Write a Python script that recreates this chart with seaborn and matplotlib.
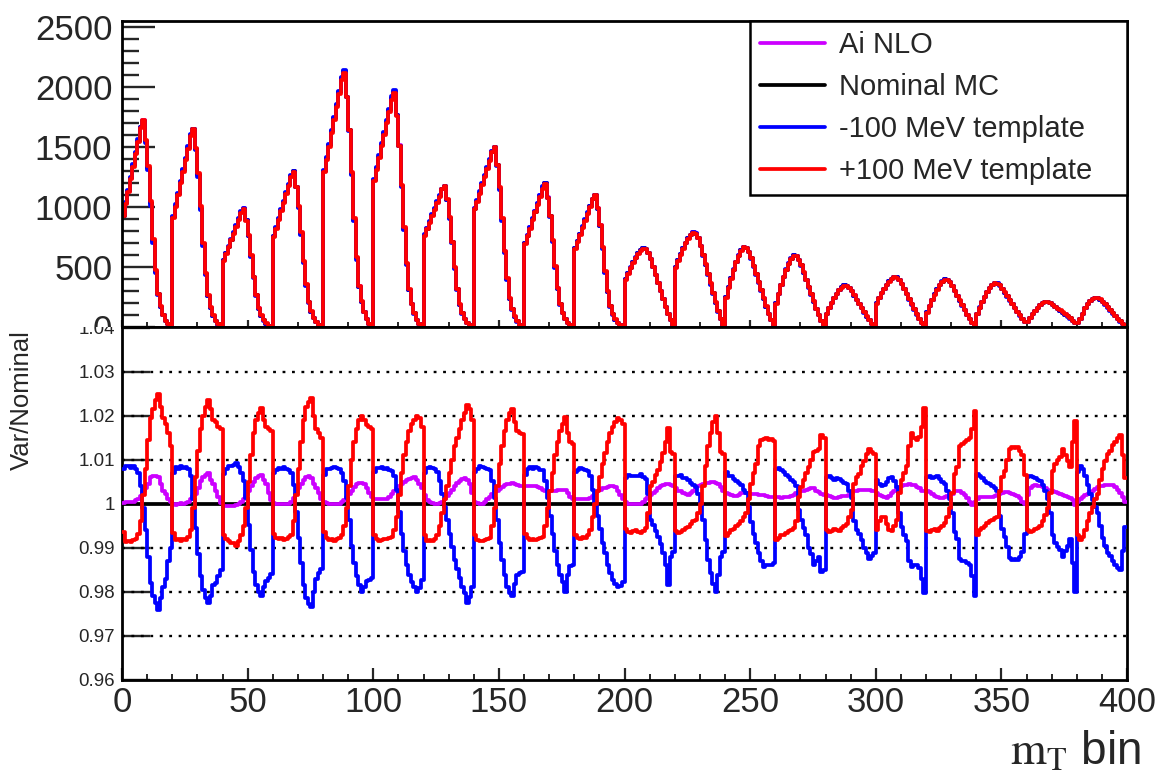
import numpy as np
import matplotlib
matplotlib.use("Agg")
import matplotlib.pyplot as plt
import seaborn as sns
from matplotlib.transforms import Bbox, TransformedBbox
from matplotlib.ticker import MultipleLocator, FixedLocator

# ---------------- data ----------------
# nominal MC counts, 400 bins (20 peaks x 20 bins)
nominal_counts = [
    930, 1033, 1135, 1246, 1349, 1451, 1554, 1665, 1720, 1548, 1324, 1032, 722, 464, 275, 172, 103, 57, 26, 9,
    920, 1015, 1110, 1212, 1307, 1402, 1497, 1599, 1650, 1485, 1270, 990, 693, 446, 264, 165, 99, 54, 25, 8,
    560, 616, 672, 732, 788, 844, 900, 960, 990, 891, 762, 594, 416, 267, 158, 99, 59, 33, 15, 5,
    760, 830, 900, 976, 1046, 1116, 1187, 1262, 1300, 1170, 1001, 780, 546, 351, 208, 130, 78, 43, 20, 7,
    1300, 1408, 1516, 1632, 1740, 1848, 1956, 2072, 2130, 1917, 1640, 1278, 895, 575, 341, 213, 128, 70, 32, 11,
    1230, 1325, 1420, 1522, 1617, 1712, 1807, 1909, 1960, 1764, 1509, 1176, 823, 529, 314, 196, 118, 65, 29, 10,
    770, 823, 877, 934, 987, 1041, 1094, 1151, 1180, 1062, 909, 708, 496, 319, 189, 118, 71, 39, 18, 6,
    990, 1056, 1123, 1194, 1260, 1327, 1393, 1464, 1500, 1350, 1155, 900, 630, 405, 240, 150, 90, 50, 23, 8,
    700, 765, 830, 900, 965, 1030, 1095, 1165, 1200, 1080, 924, 720, 504, 324, 192, 120, 72, 40, 18, 6,
    660, 717, 774, 836, 893, 950, 1008, 1069, 1100, 990, 847, 660, 462, 297, 176, 110, 66, 36, 17, 6,
    400, 452, 499, 543, 582, 616, 642, 660, 653, 620, 568, 502, 436, 370, 304, 238, 172, 112, 59, 20,
    500, 558, 610, 660, 703, 741, 770, 790, 782, 743, 679, 600, 521, 442, 363, 284, 205, 134, 71, 24,
    250, 334, 410, 481, 544, 599, 641, 670, 663, 630, 576, 509, 442, 375, 308, 241, 174, 114, 60, 20,
    200, 280, 352, 420, 480, 532, 572, 600, 594, 564, 516, 456, 396, 336, 276, 216, 156, 102, 54, 18,
    115, 162, 204, 244, 280, 310, 334, 350, 347, 329, 301, 266, 231, 196, 161, 126, 91, 60, 32, 11,
    200, 244, 284, 321, 354, 383, 405, 420, 416, 395, 361, 319, 277, 235, 193, 151, 109, 71, 38, 13,
    125, 180, 230, 276, 318, 353, 381, 400, 396, 376, 344, 304, 264, 224, 184, 144, 104, 68, 36, 12,
    115, 166, 212, 255, 294, 327, 352, 370, 366, 350, 322, 290, 258, 226, 194, 162, 130, 100, 72, 48,
    44, 78, 109, 138, 164, 186, 203, 215, 212, 202, 188, 172, 156, 140, 124, 108, 92, 75, 55, 38,
    35, 70, 115, 160, 195, 220, 238, 245, 243, 232, 214, 192, 168, 143, 118, 94, 72, 50, 32, 18,
]

# ratio to nominal, stored as deviation from 1 in units of 1e-4
plus100_dev_e4 = [
    -63, -86, -84, -86, -83, -80, -68, -40, 20, 80, 145, 195, 215, 235, 250, 220, 195, 180, 160, 130,
    -66, -82, -80, -84, -80, -82, -76, -60, -10, 60, 120, 170, 200, 220, 236, 215, 190, 186, 175, 170,
    -70, -80, -85, -88, -90, -95, -85, -70, -50, -10, 50, 110, 160, 190, 205, 218, 190, 175, 170, 165,
    -68, -78, -80, -78, -82, -80, -76, -70, -40, 20, 80, 140, 190, 220, 232, 240, 200, 170, 160, 150,
    -65, -78, -82, -80, -84, -80, -78, -72, -50, -10, 40, 100, 140, 170, 190, 200, 190, 178, 175, 170,
    -70, -80, -84, -82, -80, -80, -78, -75, -60, -30, 20, 70, 110, 140, 165, 180, 190, 200, 195, 175,
    -72, -84, -82, -84, -80, -70, -50, -20, 10, 40, 70, 100, 130, 150, 170, 190, 205, 225, 215, 190,
    -70, -82, -84, -85, -82, -80, -78, -50, -10, 40, 90, 130, 165, 190, 205, 214, 185, 165, 160, 158,
    -68, -78, -82, -80, -82, -80, -78, -75, -50, -10, 30, 70, 110, 140, 165, 180, 197, 160, 140, 135,
    -70, -78, -80, -76, -78, -72, -60, -30, 0, 30, 60, 90, 115, 140, 160, 175, 185, 195, 190, 180,
    -58, -64, -66, -62, -60, -64, -66, -62, -55, -20, 40, 50, 65, 77, 95, 116, 140, 172, 118, 112,
    -62, -66, -64, -60, -56, -52, -46, -40, -36, -20, 0, 40, 85, 130, 161, 185, 200, 160, 118, 112,
    -74, -66, -60, -58, -50, -45, -40, -30, -22, 10, 45, 70, 90, 130, 145, 148, 150, 145, 148, 142,
    -82, -78, -70, -72, -66, -62, -60, -55, -40, 15, 38, 55, 70, 83, 100, 117, 120, 125, 155, 150,
    -60, -64, -62, -58, -60, -62, -55, -50, -45, -30, -14, 45, 60, 68, 85, 98, 112, 125, 118, 114,
    -60, -40, -30, -30, -45, -60, -62, -50, -36, 24, 55, 70, 85, 130, 160, 150, 145, 152, 175, 218,
    -62, -65, -60, -58, -62, -56, -50, -44, -30, -10, 25, 68, 83, 130, 135, 140, 145, 150, 170, 210,
    -70, -60, -55, -50, -44, -40, -36, -32, -30, 30, 60, 75, 100, 125, 128, 126, 128, 120, 110, 65,
    -60, -65, -62, -58, -55, -50, -40, -25, -10, 25, 75, 90, 100, 107, 125, 110, 98, 83, 140, 187,
    -70, -82, -75, -60, -40, -22, -7, 10, 23, 53, 80, 98, 114, 120, 133, 140, 150, 155, 110, 58,
]

minus100_dev_e4 = [
    80, 86, 86, 82, 86, 80, 70, 40, -10, -60, -120, -180, -210, -225, -240, -215, -190, -170, -130, -100,
    70, 84, 80, 86, 82, 84, 78, 62, 10, -55, -115, -165, -195, -215, -225, -210, -185, -180, -165, -150,
    68, 80, 86, 85, 88, 92, 84, 70, 52, 12, -48, -105, -155, -185, -200, -210, -190, -175, -168, -160,
    70, 76, 82, 80, 84, 78, 76, 70, 42, -18, -78, -135, -185, -215, -228, -235, -200, -170, -158, -148,
    66, 80, 80, 82, 84, 82, 78, 70, 52, 12, -38, -95, -135, -165, -185, -200, -188, -176, -172, -168,
    72, 82, 82, 84, 80, 82, 76, 74, 62, 32, -18, -68, -108, -138, -162, -178, -188, -200, -192, -172,
    70, 82, 84, 82, 80, 72, 52, 22, -8, -38, -68, -98, -128, -148, -168, -188, -202, -225, -212, -188,
    72, 80, 86, 84, 82, 80, 76, 52, 12, -38, -88, -128, -162, -188, -202, -210, -182, -162, -158, -156,
    66, 80, 84, 78, 84, 82, 76, 76, 52, 12, -28, -68, -108, -138, -162, -178, -200, -162, -142, -138,
    72, 76, 82, 78, 76, 74, 62, 32, 2, -28, -58, -88, -112, -138, -158, -172, -182, -190, -186, -178,
    58, 66, 64, 64, 62, 62, 68, 60, 56, 22, -38, -48, -62, -76, -92, -112, -138, -185, -120, -110,
    62, 64, 66, 58, 58, 54, 48, 42, 38, 22, 2, -38, -82, -128, -158, -182, -200, -162, -120, -110,
    72, 64, 62, 56, 52, 46, 42, 32, 24, -8, -42, -68, -88, -112, -130, -143, -140, -138, -140, -135,
    80, 82, 76, 72, 66, 60, 55, 50, 40, -15, -38, -55, -72, -100, -115, -140, -130, -120, -155, -150,
    60, 62, 58, 55, 58, 56, 52, 48, 45, 30, 12, -40, -60, -68, -82, -100, -112, -125, -118, -112,
    55, 45, 40, 42, 50, 58, 60, 52, 38, -20, -52, -70, -85, -130, -143, -140, -138, -145, -170, -203,
    60, 62, 58, 60, 62, 56, 50, 44, 30, 10, -22, -65, -80, -125, -130, -130, -135, -140, -165, -210,
    68, 62, 58, 52, 48, 44, 40, 35, 30, -28, -58, -75, -98, -122, -128, -125, -128, -120, -110, -68,
    60, 62, 60, 58, 55, 52, 42, 28, 10, -22, -72, -88, -98, -105, -120, -108, -96, -80, -135, -200,
    72, 85, 80, 62, 42, 22, 8, -8, -22, -50, -78, -95, -112, -118, -130, -140, -145, -150, -108, -52,
]

ai_nlo_dev_e4 = [
    2, 3, 5, 4, 5, 8, 10, 18, 28, 36, 45, 60, 62, 64, 60, 45, 30, 22, 10, 3,
    0, -2, 0, 2, 0, 2, 5, 10, 18, 23, 35, 52, 60, 66, 70, 55, 45, 30, 15, 2,
    -5, -5, -6, -4, -5, -3, 0, 5, 10, 20, 30, 40, 50, 58, 62, 65, 55, 45, 25, 8,
    2, 0, 0, 0, 0, 0, 0, 5, 12, 22, 35, 45, 55, 60, 64, 58, 45, 35, 25, 10,
    5, 2, 0, 0, 0, 0, 0, 3, 8, 15, 22, 30, 38, 45, 46, 48, 45, 35, 25, 15,
    10, 10, 10, 10, 10, 10, 15, 22, 30, 35, 40, 45, 50, 55, 56, 58, 60, 55, 45, 35,
    20, 8, 4, 2, 0, 0, 2, 5, 10, 18, 25, 32, 40, 46, 52, 56, 59, 55, 45, 25,
    5, 2, 0, 0, 5, 10, 15, 22, 28, 30, 34, 38, 42, 45, 45, 46, 44, 42, 40, 40,
    40, 40, 40, 40, 40, 38, 35, 32, 30, 30, 30, 30, 30, 32, 32, 32, 32, 25, 15, 10,
    10, 10, 10, 10, 10, 10, 12, 18, 24, 28, 32, 35, 36, 38, 40, 40, 38, 30, 20, 10,
    5, 0, 0, 0, 0, 0, 0, 5, 10, 15, 20, 25, 30, 35, 40, 42, 45, 45, 42, 40,
    35, 30, 28, 25, 22, 20, 25, 30, 35, 40, 42, 45, 47, 48, 50, 50, 48, 45, 38, 30,
    25, 22, 20, 18, 18, 20, 25, 25, 24, 22, 22, 22, 21, 20, 20, 20, 18, 16, 15, 15,
    16, 15, 14, 15, 16, 15, 17, 20, 24, 26, 28, 30, 32, 34, 35, 35, 30, 26, 22, 20,
    20, 18, 15, 13, 13, 16, 18, 18, 18, 20, 24, 28, 30, 31, 31, 32, 31, 31, 30, 30,
    25, 20, 18, 15, 13, 18, 25, 30, 35, 38, 40, 43, 43, 44, 43, 42, 38, 35, 30, 28,
    28, 26, 22, 18, 15, 12, 14, 16, 18, 20, 22, 28, 30, 28, 24, 20, 14, 5, -2, 5,
    10, 15, 15, 15, 15, 15, 16, 18, 20, 22, 24, 26, 26, 24, 22, 20, 18, 12, 5, 0,
    20, 35, 40, 42, 40, 40, 38, 35, 32, 30, 28, 26, 24, 22, 20, 18, 15, 13, 8, -2,
    5, 10, 15, 20, 22, 26, 30, 34, 38, 40, 41, 42, 43, 43, 42, 38, 32, 25, 15, 5,
]

series_labels = ["Ai NLO", "Nominal MC", "-100 MeV template", "+100 MeV template"]
series_colors = ["#cc00ff", "#000000", "#0000ff", "#ff0000"]
x_ticks = [0, 50, 100, 150, 200, 250, 300, 350, 400]
top_yticks = [0, 500, 1000, 1500, 2000, 2500]
bot_yticks = [0.96, 0.97, 0.98, 0.99, 1.0, 1.01, 1.02, 1.03, 1.04]
bot_ytick_labels = ["0.96", "0.97", "0.98", "0.99", "1", "1.01", "1.02", "1.03", "1.04"]
grid_levels = [0.97, 0.98, 0.99, 1.01, 1.02, 1.03]

# ---------------- derived quantities ----------------
nominal = np.array(nominal_counts, dtype=float)
ratio_plus = 1.0 + np.array(plus100_dev_e4) * 1e-4
ratio_minus = 1.0 + np.array(minus100_dev_e4) * 1e-4
ratio_ai = 1.0 + np.array(ai_nlo_dev_e4) * 1e-4
ratio_nom = nominal / nominal
ratios = [ratio_ai, ratio_nom, ratio_minus, ratio_plus]
edges = np.arange(len(nominal) + 1)


def steps(v):
    return np.append(v, v[-1])


# ---------------- style ----------------
sns.set_style("ticks")
plt.rcParams["font.family"] = ["Liberation Sans", "DejaVu Sans"]
plt.rcParams["mathtext.fontset"] = "stix"

W_PX, H_PX = 1159, 772
fig = plt.figure(figsize=(W_PX / 100, H_PX / 100), dpi=100)

left = 122 / W_PX
width = (1127 - 122) / W_PX
split = 1 - 327.5 / H_PX
top_top = 1 - 21 / H_PX
bot_bot = 1 - 680 / H_PX

ax_top = fig.add_axes([left, split, width, top_top - split])
ax_bot = fig.add_axes([left, bot_bot, width, split - bot_bot])
ax_bot.set_zorder(1)

LW = 2.7
handles = []
for lab, col, r in zip(series_labels, series_colors, ratios):
    sns.lineplot(x=edges, y=steps(nominal * r), ax=ax_top, color=col, linewidth=LW,
                 drawstyle="steps-post", estimator=None, sort=False, legend=False)
    handles.append(ax_top.get_lines()[-1])

for lev in grid_levels:
    ax_bot.axhline(lev, color="black", lw=1.7, ls=(0, (1.2, 2.8)), zorder=1)

bot_order = [1, 0, 2, 3]  # nominal first, then Ai NLO, -100, +100
for i in bot_order:
    sns.lineplot(x=edges, y=steps(ratios[i]), ax=ax_bot, color=series_colors[i], linewidth=LW,
                 drawstyle="steps-post", estimator=None, sort=False, legend=False, zorder=3)

# ---------------- axes setup ----------------
for ax in (ax_top, ax_bot):
    ax.set_xlim(0, 400)
    ax.set_xlabel("")
    ax.set_ylabel("")
    for sp in ax.spines.values():
        sp.set_visible(True)
        sp.set_linewidth(2.0)
        sp.set_color("black")
    ax.xaxis.set_major_locator(FixedLocator(x_ticks))
    ax.xaxis.set_minor_locator(MultipleLocator(10))

ax_top.set_ylim(0, 2550)
ax_top.yaxis.set_major_locator(FixedLocator(top_yticks))
ax_top.yaxis.set_minor_locator(MultipleLocator(100))
ax_top.set_yticklabels([str(t) for t in top_yticks])
ax_top.tick_params(axis="y", which="major", direction="in", length=24, width=1.7,
                   labelsize=25, pad=7)
ax_top.tick_params(axis="y", which="minor", direction="in", length=12, width=1.7)
ax_top.tick_params(axis="x", which="major", direction="in", length=5, width=1.6,
                   labelbottom=False)
ax_top.tick_params(axis="x", which="minor", direction="in", length=3.5, width=1.4)

ax_bot.set_ylim(0.96, 1.04)
ax_bot.yaxis.set_major_locator(FixedLocator(bot_yticks))
ax_bot.set_yticklabels(bot_ytick_labels)
ax_bot.set_xticklabels([str(t) for t in x_ticks])
ax_bot.tick_params(axis="x", which="major", direction="in", length=8.5, width=1.6,
                   labelsize=25, pad=4)
ax_bot.tick_params(axis="x", which="minor", direction="in", length=4.5, width=1.4)
ax_bot.tick_params(axis="y", which="major", direction="in", length=20, width=1.7,
                   labelsize=13.5, pad=5)
ax_bot.tick_params(axis="y", which="minor", left=False)

# clip the labels that sit on the pad boundary, as in the reference
clip_above = TransformedBbox(Bbox.from_extents(0, split, 1, 1), fig.transFigure)
clip_below = TransformedBbox(Bbox.from_extents(0, 0, 1, split), fig.transFigure)
lab0 = ax_top.yaxis.get_major_ticks()[0].label1
lab0.set_clip_box(clip_above)
lab0.set_clip_on(True)
lab104 = ax_bot.yaxis.get_major_ticks()[-1].label1
lab104.set_clip_box(clip_below)
lab104.set_clip_on(True)

# ---------------- legend ----------------
leg = ax_top.legend(handles, series_labels, loc="upper left",
                    bbox_to_anchor=(0.625, 1.0, 0.375, 0.0), mode="expand",
                    borderaxespad=0.0, frameon=True, fancybox=False, framealpha=1.0,
                    edgecolor="black", fontsize=21, handlelength=2.2, handletextpad=0.5,
                    labelspacing=0.48, borderpad=0.35)
leg.get_frame().set_linewidth(1.8)
leg.set_zorder(10)

# ---------------- titles ----------------
fig.text(22 / W_PX, 1 - 330 / H_PX, "Var/Nominal", rotation=90, ha="center", va="top",
         fontsize=18.5)
fig.text(1141 / W_PX, 1 - 752 / H_PX, r"$\mathrm{m}_{\mathrm{T}}$ bin", ha="right",
         va="center", fontsize=33)

fig.savefig("out.png", dpi=100)
